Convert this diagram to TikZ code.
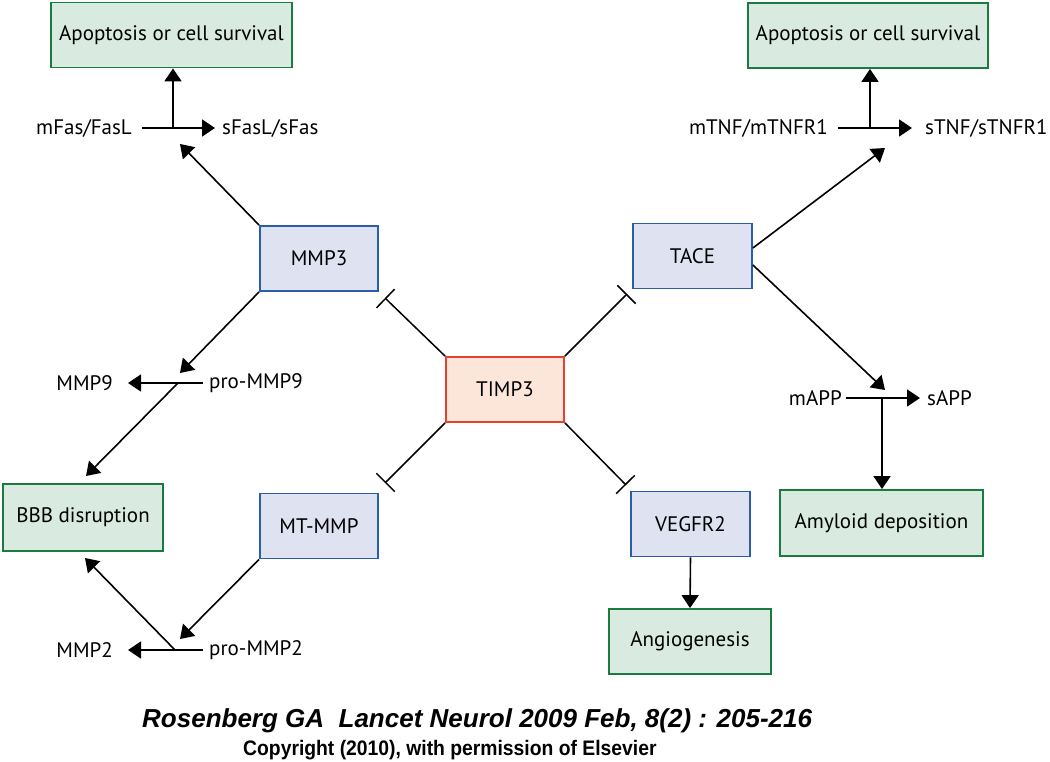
\documentclass[tikz,border=0pt]{standalone}
\usepackage{fontspec}
\setmainfont{PT Sans}
\newfontfamily\capfont{Liberation Sans}
\newfontfamily\copyfont[FakeStretch=0.92]{Liberation Sans}
\usetikzlibrary{arrows.meta}
\definecolor{gfill}{HTML}{D9EAE0}
\definecolor{gdraw}{HTML}{1B7A3E}
\definecolor{bfill}{HTML}{DEE2F1}
\definecolor{bdraw}{HTML}{2A5DAA}
\definecolor{rfill}{HTML}{FCE6DA}
\definecolor{rdraw}{HTML}{E8402F}
\begin{document}
\begin{tikzpicture}[x=1pt,y=-1pt,
  box/.style={draw, line width=1.8pt, inner sep=0pt, minimum height=65pt, font=\fontsize{21}{24}\selectfont},
  gbox/.style={box, fill=gfill, draw=gdraw},
  bbox/.style={box, fill=bfill, draw=bdraw, minimum width=118pt},
  rbox/.style={box, fill=rfill, draw=rdraw, minimum width=118pt},
  lbl/.style={inner sep=0pt, font=\fontsize{21}{24}\selectfont},
  arr/.style={line width=1.6pt, -{Triangle[length=13pt,width=17pt]}},
  inh/.style={line width=1.5pt, -{Bar[width=26pt,line width=1.5pt]}}
]
\useasboundingbox (0,0) rectangle (1050,762);
% boxes
\node[gbox, minimum width=241pt] (apL) at (171.5,35) {Apoptosis or cell survival};
\node[gbox, minimum width=240pt] (apR) at (868,35.5) {Apoptosis or cell survival};
\node[bbox] (mmp3) at (319,258.5) {MMP3};
\node[bbox, minimum width=119pt] (tace) at (692.5,256) {TACE};
\node[rbox] (timp3) at (505,389.5) {TIMP3};
\node[bbox] (mtmmp) at (319,526) {MT-MMP};
\node[bbox, minimum width=119pt] (vegfr2) at (690.5,524) {VEGFR2};
\node[gbox, minimum width=162pt] (angio) at (690,641.5) {Angiogenesis};
\node[gbox, minimum width=203pt, minimum height=66pt] (amyl) at (881.5,523) {Amyloid deposition};
\node[gbox, minimum width=160pt, minimum height=67pt] (bbb) at (83,517.5) {BBB disruption};
% labels
\node[lbl, anchor=east] (mfas) at (132,128) {mFas/FasL};
\node[lbl, anchor=west] (sfas) at (222,128) {sFasL/sFas};
\node[lbl, anchor=east] (mtnf) at (828,128) {mTNF/mTNFR1};
\node[lbl, anchor=west] (stnf) at (925,128) {sTNF/sTNFR1};
\node[lbl, anchor=east] (mmp9) at (113,383) {MMP9};
\node[lbl, anchor=west] (pro9) at (209,383) {pro-MMP9};
\node[lbl, anchor=east] (mmp2) at (113,650) {MMP2};
\node[lbl, anchor=west] (pro2) at (209,650) {pro-MMP2};
\node[lbl, anchor=east] (mapp) at (842,398) {mAPP};
\node[lbl, anchor=west] (sapp) at (927,398) {sAPP};
% junctions and tips
\coordinate (jfas) at (173,128);
\coordinate (jtnf) at (870,128);
\coordinate (j9) at (178,383);
\coordinate (j2) at (175,650);
\coordinate (japp) at (882,398);
\coordinate (tfas) at (180,144);
\coordinate (t9) at (180,373);
\coordinate (tbbb1) at (86,476);
\coordinate (t2) at (180,639);
\coordinate (tbbb2) at (85,558);
\coordinate (ttnf) at (885,148);
\coordinate (tapp) at (885,390);
\coordinate (i1) at (385,298);
\coordinate (i2) at (627,294);
\coordinate (i3) at (385,483);
\coordinate (i4) at (626,485);
% connectors
\draw[arr, shorten <=10pt, shorten >=7pt] (mfas.east) -- (sfas.west);
\draw[arr] (jfas) -- (jfas |- apL.south);
\draw[arr] (mmp3.north west) -- (tfas);
\draw[arr, shorten <=10pt, shorten >=13pt] (mtnf.east) -- (stnf.west);
\draw[arr] (jtnf) -- (jtnf |- apR.south);
\draw[arr] ([yshift=8pt]tace.east) -- (ttnf);
\draw[arr] ([yshift=-9pt]tace.east) -- (tapp);
\draw[arr, shorten <=4pt, shorten >=7pt] (mapp.east) -- (sapp.west);
\draw[arr] (japp) -- (japp |- amyl.north);
\draw[arr] (mmp3.south west) -- (t9);
\draw[arr, shorten <=6pt, shorten >=15pt] (pro9.west) -- (mmp9.east);
\draw[arr] (j9) -- (tbbb1);
\draw[arr] (mtmmp.south west) -- (t2);
\draw[arr, shorten <=6pt, shorten >=15pt] (pro2.west) -- (mmp2.east);
\draw[arr] (j2) -- (tbbb2);
\draw[arr] (vegfr2.south) -- (angio.north);
\draw[inh] (timp3.north west) -- (i1);
\draw[inh] (timp3.north east) -- (i2);
\draw[inh] (timp3.south west) -- (i3);
\draw[inh] (timp3.south east) -- (i4);
% caption
\node[inner sep=0pt, anchor=base west, font=\capfont\bfseries\itshape\fontsize{26}{29}\selectfont] (cap) at (142,727) {Rosenberg GA\ \ Lancet Neurol 2009 Feb, 8(2) : 205-216};
\node[inner sep=0pt, anchor=base west, font=\copyfont\bfseries\fontsize{21}{24}\selectfont] (copy) at (243,755) {Copyright (2010), with permission of Elsevier};
\end{tikzpicture}
\end{document}
